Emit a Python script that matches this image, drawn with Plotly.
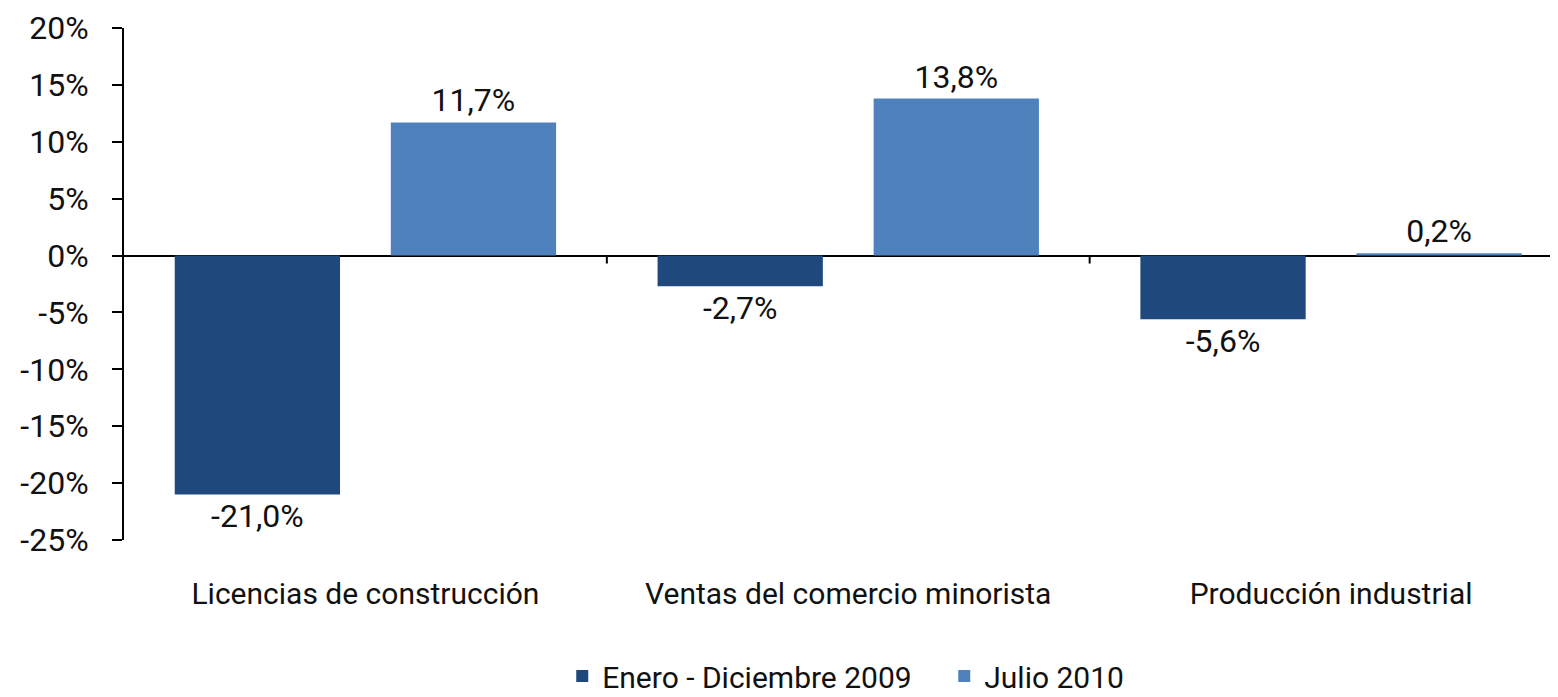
import plotly.graph_objects as go

categories = ["Licencias de construcción", "Ventas del comercio minorista", "Producción industrial"]
series_names = ["Enero - Diciembre 2009", "Julio 2010"]
values_2009 = [-21.0, -2.7, -5.6]
values_2010 = [11.7, 13.8, 0.2]
colors = ["#1F497D", "#4F81BD"]
y_ticks = [-25, -20, -15, -10, -5, 0, 5, 10, 15, 20]

FONT = "Roboto, Arial, sans-serif"

def fmt(v):
    return f"{v:.1f}".replace(".", ",") + "%"

x_idx = list(range(len(categories)))

fig = go.Figure()
for name, vals, col in zip(series_names, [values_2009, values_2010], colors):
    fig.add_trace(go.Bar(
        x=x_idx, y=vals, name=name,
        marker=dict(color=col, line=dict(width=0)),
        text=[fmt(v) for v in vals], textposition="outside",
        textfont=dict(family=FONT, size=32, color="#111111"),
        cliponaxis=False,
    ))

# category boundary tick marks on the zero line
for b in range(len(categories) - 1):
    fig.add_shape(type="line", xref="x", yref="y", x0=b + 0.5, x1=b + 0.5,
                  y0=0, y1=-0.7, line=dict(color="black", width=2))

fig.update_layout(
    width=1550, height=689,
    margin=dict(l=116, r=0, t=20, b=157),
    plot_bgcolor="white", paper_bgcolor="white",
    barmode="group", bargap=0.105, bargroupgap=0.235,
    font=dict(family=FONT, size=30, color="#111111"),
    showlegend=True,
    legend=dict(orientation="h", x=0.572, xanchor="center", xref="paper",
                y=0.0305, yanchor="middle", yref="container",
                font=dict(family=FONT, size=30, color="#111111"),
                entrywidth=337, itemwidth=30, tracegroupgap=0),
    xaxis=dict(range=[-0.5, 2.47], tickmode="array", tickvals=x_idx, ticktext=categories,
               showline=False, ticks="", showgrid=False, zeroline=False,
               ticklabelstandoff=33, tickfont=dict(family=FONT, size=30)),
    yaxis=dict(range=[-25, 20], tickmode="array", tickvals=y_ticks,
               ticktext=[f"{t}%" for t in y_ticks],
               showline=True, linecolor="black", linewidth=2,
               ticks="outside", ticklen=10, tickwidth=2, tickcolor="black",
               showgrid=False, zeroline=True, zerolinecolor="black", zerolinewidth=2,
               tickfont=dict(family=FONT, size=32), ticklabelstandoff=17),
)

fig.write_html("out.html")
